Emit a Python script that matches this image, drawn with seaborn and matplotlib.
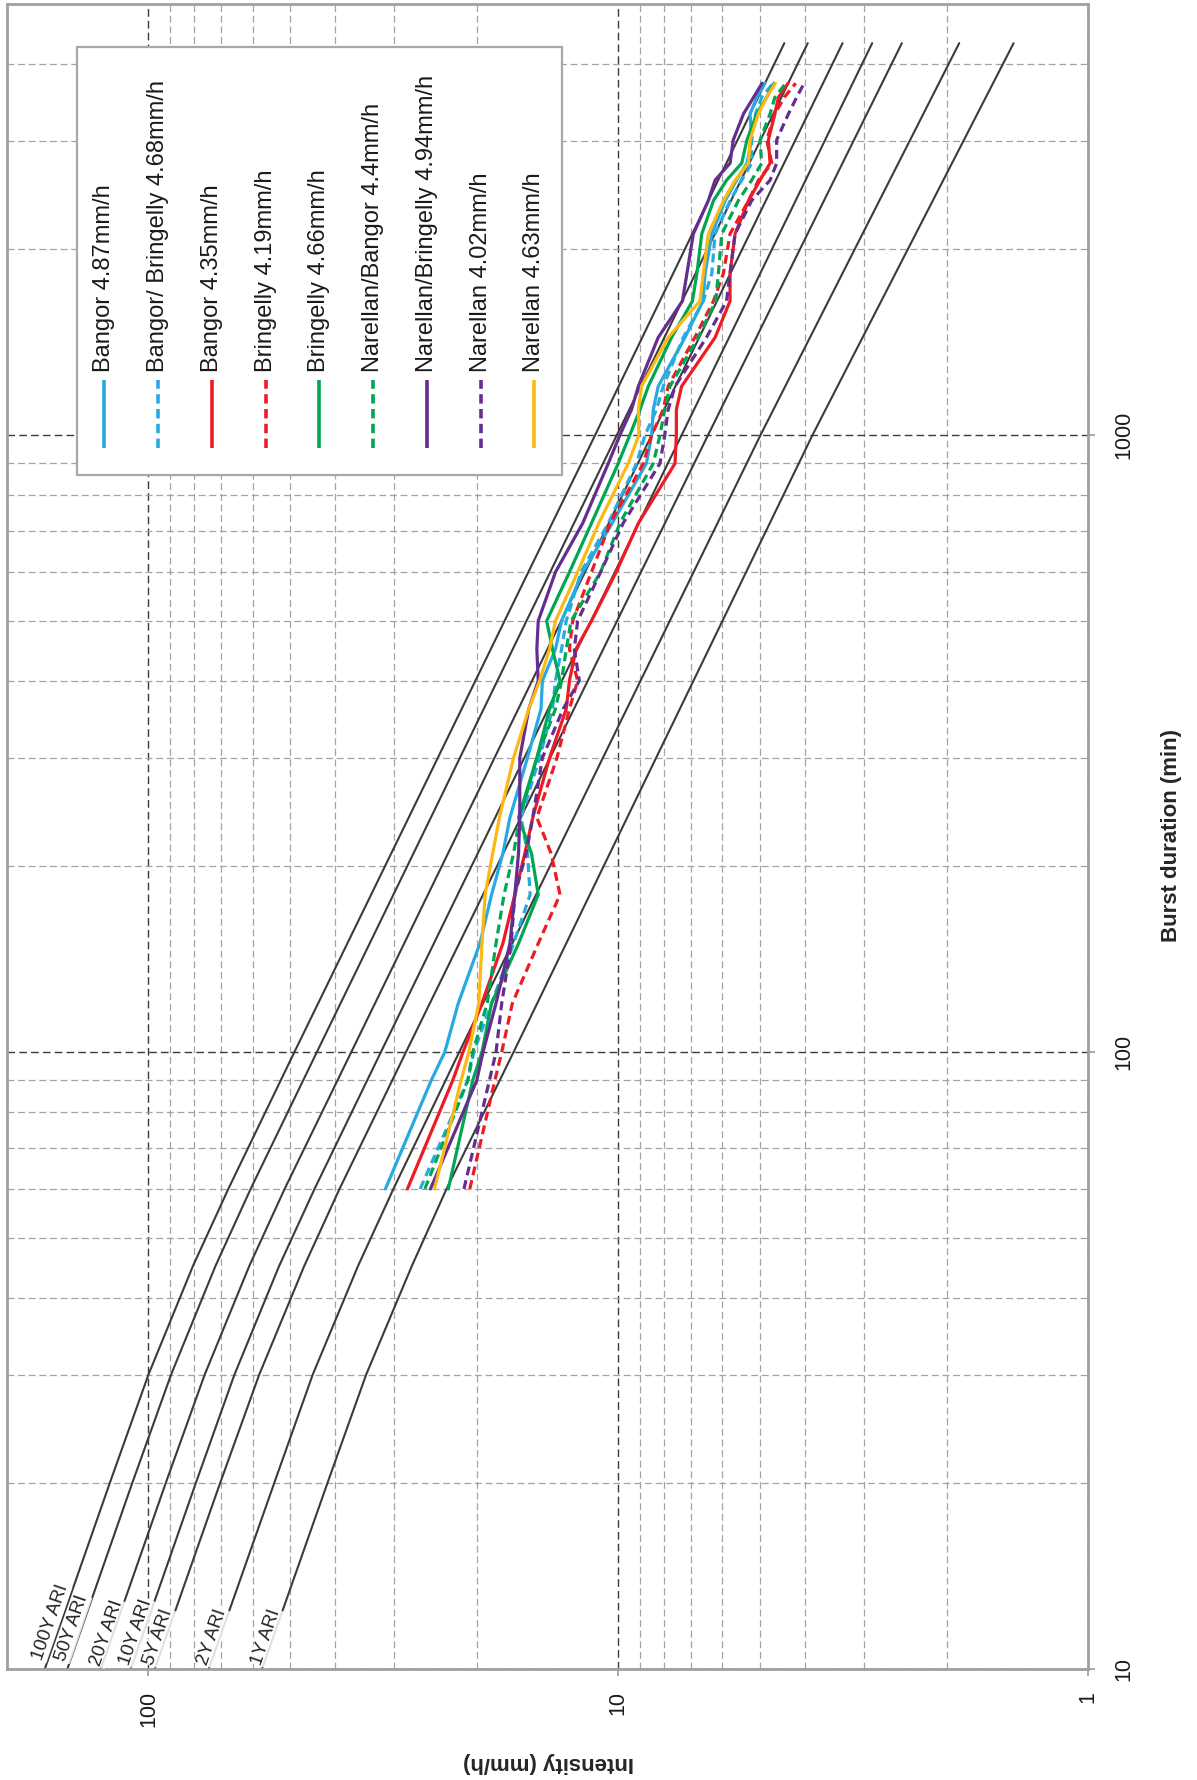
import numpy as np
import pandas as pd
import matplotlib
matplotlib.use("Agg")
import matplotlib.pyplot as plt
from matplotlib.ticker import LogLocator, FixedLocator, FixedFormatter, NullFormatter
from matplotlib.patches import Rectangle
from matplotlib.lines import Line2D
import seaborn as sns

sns.set_theme(style="white")
plt.rcParams["font.family"] = ["Liberation Sans", "DejaVu Sans"]

# ---- recorded storm bursts: mean intensity (mm/h) against burst duration (min)
event_durations = [60, 90, 100, 120, 150, 180, 210, 240, 300, 360, 400, 450, 500, 600,
                   720, 900, 1000, 1100, 1200, 1440, 1650, 1830, 2120, 2400, 2590, 2760,
                   3010, 3320, 3530, 3720]
bangor_487 = [31.3, 25.0, 23.4, 21.9, 19.7, 18.6, 17.6, 17.0, 15.6, 14.6, 14.5, 13.6, 13.2, 11.9,
              10.3, 8.71, 8.49, 8.42, 8.22, 7.21, 6.6, 6.53, 6.32, 5.92, 5.60, 5.32,
              5.20, 5.24, 5.07, 4.87]
bangor_bringelly_468 = [26.4, 20.9, 20.3, 18.6, 16.7, 15.4, 15.6, 16.1, 14.7, 13.8, 13.6, 13.2, 12.9, 12.0,
                        10.5, 9.14, 8.77, 8.29, 8.02, 7.27, 6.59, 6.32, 6.22, 5.78, 5.46, 5.20,
                        5.20, 5.10, 4.95, 4.68]
bangor_435 = [28.1, 22.5, 21.4, 19.5, 17.6, 16.6, 15.8, 15.2, 14.0, 12.9, 12.7, 12.3, 11.4, 10.1,
              9.06, 7.57, 7.52, 7.52, 7.33, 6.22, 5.78, 5.78, 5.64, 5.28, 4.99, 4.75,
              4.79, 4.64, 4.56, 4.35]
bringelly_419 = [20.7, 18.3, 17.7, 16.8, 14.8, 13.3, 13.9, 14.9, 13.5, 12.7, 12.2, 12.7, 12.5, 11.4,
                 10.4, 8.84, 8.49, 8.02, 7.83, 6.87, 6.27, 5.97, 5.78, 5.28, 5.03, 4.71,
                 4.83, 4.64, 4.43, 4.19]
bringelly_466 = [23.0, 20.4, 19.5, 18.6, 16.3, 14.8, 15.3, 16.3, 14.9, 14.0, 13.3, 13.8, 14.2, 12.7,
                 11.4, 10.0, 9.45, 8.99, 8.63, 7.70, 6.95, 6.80, 6.64, 6.27, 5.88, 5.46,
                 5.32, 5.07, 4.83, 4.66]
narellan_bangor_44 = [25.8, 20.9, 20.4, 19.0, 18.2, 17.5, 16.7, 16.2, 14.9, 13.6, 13.2, 12.9, 12.6, 10.9,
                      9.92, 8.42, 8.15, 7.96, 7.76, 6.76, 6.20, 6.12, 6.02, 5.55, 5.20, 4.95,
                      4.99, 4.75, 4.64, 4.40]
narellan_bringelly_494 = [25.1, 20.0, 19.4, 18.2, 17.0, 16.6, 16.3, 16.2, 16.2, 15.5, 14.8, 14.9, 14.8, 13.6,
                          11.9, 10.5, 9.92, 9.37, 9.06, 8.22, 7.30, 7.14, 6.92, 6.43, 6.22, 5.78,
                          5.69, 5.41, 5.15, 4.94]
narellan_402 = [21.3, 18.8, 18.2, 17.7, 16.9, 16.6, 15.7, 15.2, 14.5, 13.1, 12.1, 12.4, 12.2, 10.9,
                9.76, 8.15, 7.96, 7.83, 7.57, 6.49, 5.88, 5.78, 5.64, 5.20, 4.75, 4.60,
                4.60, 4.34, 4.17, 4.02]
narellan_463 = [24.6, 21.6, 20.8, 19.8, 19.5, 19.2, 18.5, 17.9, 16.7, 15.5, 14.7, 14.0, 13.6, 12.2,
                11.0, 9.52, 9.04, 9.06, 8.92, 7.83, 6.70, 6.59, 6.43, 5.97, 5.64, 5.28,
                5.24, 5.03, 4.83, 4.63]

series_names = ["Bangor 4.87mm/h", "Bangor/ Bringelly 4.68mm/h", "Bangor 4.35mm/h",
                "Bringelly 4.19mm/h", "Bringelly 4.66mm/h", "Narellan/Bangor 4.4mm/h",
                "Narellan/Bringelly 4.94mm/h", "Narellan 4.02mm/h", "Narellan 4.63mm/h"]
series_values = [bangor_487, bangor_bringelly_468, bangor_435, bringelly_419, bringelly_466,
                 narellan_bangor_44, narellan_bringelly_494, narellan_402, narellan_463]
series_colors = ["#27AAE1", "#27AAE1", "#ED1C24", "#ED1C24", "#00A651",
                 "#00A651", "#662D91", "#662D91", "#FDB913"]
series_dashed = [False, True, False, True, False, True, False, True, False]

# ---- design intensity-frequency-duration curves
ari_durations = [10, 20, 30, 45, 60, 100, 1000, 4320]
ari_100y = [166.2, 120.9, 100.0, 80.4, 67.6, 48.9, 11.2, 4.43]
ari_50y = [148.8, 108.3, 89.5, 72.0, 60.6, 43.8, 10.07, 3.95]
ari_20y = [126.3, 91.9, 75.9, 61.0, 51.3, 37.0, 8.49, 3.33]
ari_10y = [109.0, 79.3, 65.6, 52.7, 44.3, 32.0, 7.33, 2.88]
ari_5y = [96.9, 70.4, 58.1, 46.6, 39.2, 28.3, 6.44, 2.49]
ari_2y = [74.4, 54.0, 44.7, 35.8, 30.1, 21.8, 4.98, 1.88]
ari_1y = [57.3, 41.6, 34.4, 27.5, 23.2, 16.7, 3.86, 1.44]
ari_names = ["100Y ARI", "50Y ARI", "20Y ARI", "10Y ARI", "5Y ARI", "2Y ARI", "1Y ARI"]
ari_values = [ari_100y, ari_50y, ari_20y, ari_10y, ari_5y, ari_2y, ari_1y]
# where each curve name sits (intensity, duration)
ari_label_at = [(161.5, 11.9), (145.2, 11.65), (122.3, 11.44), (106.4, 11.48),
                (95.1, 11.27), (73.0, 11.27), (56.2, 11.27)]

events = pd.DataFrame(
    [(name, d, i) for name, vals in zip(series_names, series_values)
     for d, i in zip(event_durations, vals)],
    columns=["series", "duration", "intensity"])
design = pd.DataFrame(
    [(name, d, i) for name, vals in zip(ari_names, ari_values)
     for d, i in zip(ari_durations, vals)],
    columns=["ari", "duration", "intensity"])

W, H = 1197, 1780
fig = plt.figure(figsize=(W / 100, H / 100), dpi=100)
fig.patch.set_facecolor("white")
ax = fig.add_axes([7 / W, 111 / H, 1081 / W, 1665 / H])
ax.set_facecolor("white")

# the page is turned a quarter: intensity runs right-to-left, duration upward
ax.set_xscale("log")
ax.set_yscale("log")

sns.lineplot(data=design, x="intensity", y="duration", units="ari", estimator=None,
             sort=False, orient="y", color="#3b3b3b", linewidth=1.5, legend=False,
             ax=ax, zorder=2)

dash_map = {n: ((2.8, 1.6) if d else "") for n, d in zip(series_names, series_dashed)}
color_map = dict(zip(series_names, series_colors))
sns.lineplot(data=events, x="intensity", y="duration", hue="series", style="series",
             hue_order=series_names, style_order=series_names, palette=color_map,
             dashes=dash_map, estimator=None, sort=False, orient="y", linewidth=2.3,
             legend=False, ax=ax, zorder=3)

ax.set_xlim(200, 1)
ax.set_ylim(10, 5000)

for (ix, dy), name in zip(ari_label_at, ari_names):
    ax.text(ix, dy, name, rotation=71, rotation_mode="anchor", ha="center", va="center",
            fontsize=13.5, color="#222222", zorder=4,
            bbox=dict(facecolor="white", edgecolor="none", alpha=0.85, pad=0.6))

# axes, ticks and grid
ax.xaxis.set_major_locator(FixedLocator([1, 10, 100]))
ax.xaxis.set_major_formatter(FixedFormatter(["1", "10", "100"]))
ax.xaxis.set_minor_locator(LogLocator(base=10, subs=np.arange(2, 10), numticks=20))
ax.xaxis.set_minor_formatter(NullFormatter())
ax.yaxis.set_major_locator(FixedLocator([10, 100, 1000]))
ax.yaxis.set_major_formatter(FixedFormatter(["10", "100", "1000"]))
ax.yaxis.set_minor_locator(LogLocator(base=10, subs=np.arange(2, 10), numticks=20))
ax.yaxis.set_minor_formatter(NullFormatter())
ax.yaxis.tick_right()

ax.tick_params(axis="x", which="major", direction="out", length=5, width=1.2, color="#999999",
               labelsize=15.5, labelrotation=90, pad=11, bottom=True, labelcolor="#1a1a1a")
ax.tick_params(axis="y", which="major", direction="out", length=5, width=1.2, color="#999999",
               labelsize=15.5, labelrotation=90, pad=13, right=True, left=False,
               labelright=True, labelleft=False, labelcolor="#1a1a1a")
ax.tick_params(which="minor", length=0)
for lbl in ax.get_yticklabels():
    lbl.set_va("center")

ax.set_axisbelow(True)
ax.grid(True, which="major", color="#3a3a3a", linestyle=(0, (5.5, 3)), linewidth=1.0)
ax.grid(True, which="minor", color="#a3a3a3", linestyle=(0, (5.5, 3)), linewidth=0.9)
for sp in ax.spines.values():
    sp.set_color("#a0a0a0")
    sp.set_linewidth(2.0)

ax.set_xlabel("Intensity (mm/h)", fontsize=16, fontweight="bold", rotation=180)
ax.xaxis.set_label_coords((549 - 7) / 1081, (1669 - 1762) / 1665)
ax.xaxis.label.set_va("center")
ax.xaxis.label.set_ha("center")
ax.yaxis.set_label_position("right")
ax.set_ylabel("Burst duration (min)", fontsize=16, fontweight="bold", rotation=90)
ax.yaxis.set_label_coords((1172 - 7) / 1081, (1669 - 835) / 1665)
ax.yaxis.label.set_va("center")
ax.yaxis.label.set_ha("center")

# key, laid out in columns along the turned page
box = Rectangle((77.3 / W, 1 - 475 / H), 484.4 / W, 427.7 / H, transform=fig.transFigure,
                facecolor="white", edgecolor="#a8a8a8", linewidth=1.6, zorder=5)
fig.add_artist(box)
key_x = [104.3, 158.3, 212.0, 265.7, 319.3, 373.0, 426.7, 480.7, 534.3]
for kx, name, col, dashed in zip(key_x, series_names, series_colors, series_dashed):
    ln = Line2D([kx / W, kx / W], [1 - 448.3 / H, 1 - 380 / H], transform=fig.transFigure,
                color=col, linewidth=2.6, zorder=6, solid_capstyle="butt")
    if dashed:
        ln.set_dashes((2.6, 1.5))
    fig.add_artist(ln)
    fig.text(kx / W, 1 - 371.7 / H, name, rotation=90, rotation_mode="anchor",
             ha="left", va="center", fontsize=17, color="#1a1a1a", zorder=7)

fig.savefig("out.png", dpi=100, facecolor="white")
